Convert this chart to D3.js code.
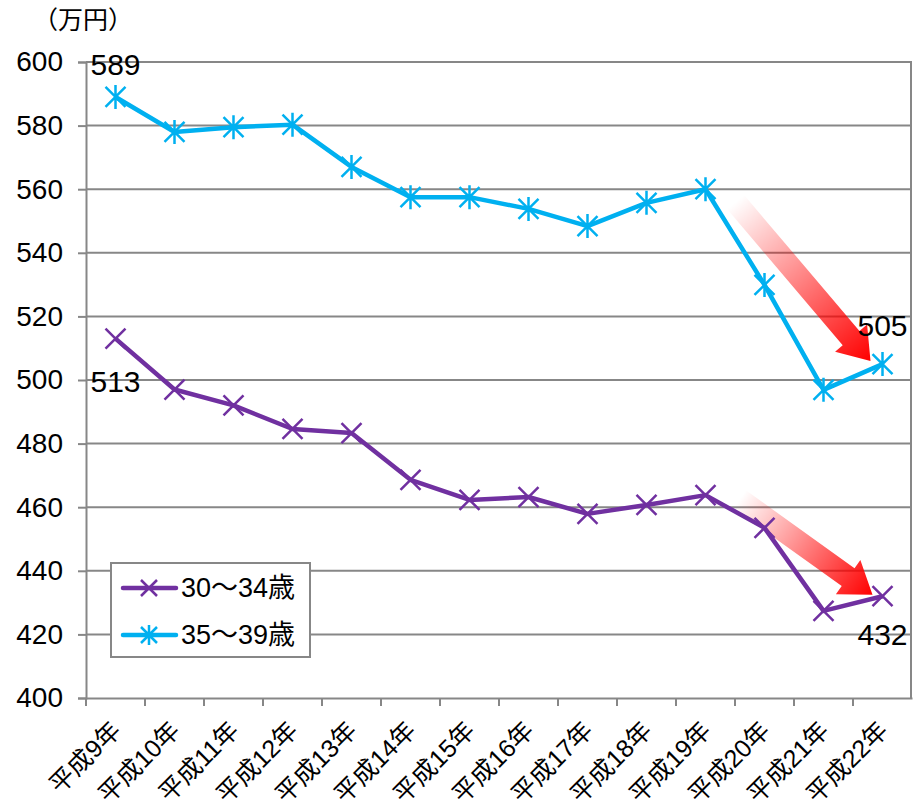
<!DOCTYPE html>
<html>
<head>
<meta charset="utf-8">
<script src="https://cdn.jsdelivr.net/npm/d3@7"></script>
<style>
  html, body { margin: 0; padding: 0; background: #fff; }
  svg { display: block; }
  text { font-family: "Liberation Sans", Arial, "Noto Sans CJK JP", sans-serif; fill: #000; }
</style>
</head>
<body>
<div id="chart"></div>
<script>
// Categories (Heisei years) and yearly income by age group, in 10,000 yen
const categories = ["平成9年","平成10年","平成11年","平成12年","平成13年","平成14年","平成15年","平成16年","平成17年","平成18年","平成19年","平成20年","平成21年","平成22年"];
const age30to34 = [513, 497, 492, 484.6, 483.3, 468.6, 462.3, 463.2, 457.9, 460.7, 463.8, 453.5, 427.4, 432];
const age35to39 = [589, 578, 579.5, 580.3, 567, 557.5, 557.5, 553.8, 548.4, 555.7, 560, 529.9, 496.9, 505];
const yTicks = [400, 420, 440, 460, 480, 500, 520, 540, 560, 580, 600];
const seriesNames = ["30～34歳", "35～39歳"];
const colors = ["#7030A0", "#00B0F0"];

const W = 913, H = 807;
const margin = { left: 86, right: 1, top: 62, bottom: 109 };

const svg = d3.select("#chart").append("svg").attr("width", W).attr("height", H);

const x = d3.scaleBand().domain(categories).range([margin.left, W - margin.right]).paddingInner(0).paddingOuter(0);
const y = d3.scaleLinear().domain([400, 600]).range([H - margin.bottom, margin.top]);
const cx = d => x(d) + x.bandwidth() / 2;

// gridlines
svg.append("g").selectAll("line").data(yTicks.filter(t => t > 400)).join("line")
  .attr("x1", margin.left).attr("x2", W - margin.right)
  .attr("y1", d => y(d)).attr("y2", d => y(d))
  .attr("stroke", "#878787").attr("stroke-width", 2);

// right border of plot
svg.append("line").attr("x1", W - margin.right - 1).attr("x2", W - margin.right - 1)
  .attr("y1", y(600)).attr("y2", y(400)).attr("stroke", "#878787").attr("stroke-width", 2);

// y axis
const yAxis = svg.append("g").attr("transform", `translate(${margin.left},0)`)
  .call(d3.axisLeft(y).tickValues(yTicks).tickSize(8).tickPadding(15));
yAxis.select(".domain").attr("stroke", "#878787").attr("stroke-width", 2);
yAxis.selectAll(".tick line").attr("stroke", "#878787").attr("stroke-width", 2);
yAxis.selectAll(".tick text").attr("font-size", 28).attr("fill", "#000")
  .attr("font-family", "'Liberation Sans', Arial, sans-serif");

// x axis
const xAxis = svg.append("g").attr("transform", `translate(0,${y(400)})`)
  .call(d3.axisBottom(x).tickSize(0).tickFormat(""));
xAxis.select(".domain").attr("stroke", "#878787").attr("stroke-width", 2);
svg.append("g").selectAll("line").data(categories).join("line")
  .attr("x1", d => x(d)).attr("x2", d => x(d))
  .attr("y1", y(400)).attr("y2", y(400) + 8)
  .attr("stroke", "#878787").attr("stroke-width", 2);
svg.append("g").selectAll("text").data(categories).join("text")
  .attr("transform", d => `translate(${cx(d) - 6},${y(400) + 21}) rotate(-45)`)
  .attr("text-anchor", "end").attr("dominant-baseline", "hanging")
  .attr("font-size", 25)
  .attr("font-family", "'Liberation Sans', 'Noto Sans CJK JP', sans-serif")
  .text(d => d);

// unit label
svg.append("text").attr("x", 33).attr("y", 29).attr("font-size", 25)
  .attr("font-family", "'Noto Sans CJK JP', sans-serif").text("（万円）");

// decorative trend arrows with fading gradient
const defs = svg.append("defs");
const grad = defs.append("linearGradient").attr("id", "fadeRed")
  .attr("x1", "0%").attr("x2", "100%").attr("y1", "0%").attr("y2", "0%");
grad.append("stop").attr("offset", "0%").attr("stop-color", "#ff0000").attr("stop-opacity", 0);
grad.append("stop").attr("offset", "100%").attr("stop-color", "#ff0000").attr("stop-opacity", 1);

function arrow(x0, y0, x1, y1) {
  const dx = x1 - x0, dy = y1 - y0;
  const len = Math.hypot(dx, dy);
  const ang = Math.atan2(dy, dx) * 180 / Math.PI;
  const sw = 11, hw = 21, hl = 30;
  const pts = [[0, -sw], [len - hl, -sw], [len - hl, -hw], [len, 0], [len - hl, hw], [len - hl, sw], [0, sw]];
  svg.append("polygon")
    .attr("points", pts.map(p => p.join(",")).join(" "))
    .attr("transform", `translate(${x0},${y0}) rotate(${ang})`)
    .attr("fill", "url(#fadeRed)");
}
arrow(cx(categories[10]) + 30, y(556), cx(categories[13]) - 12, y(506));
arrow(cx(categories[10]) + 34, y(462.5), cx(categories[13]) - 10, y(432.5));

// lines and markers
const line = d3.line().x((d, i) => cx(categories[i])).y(d => y(d));
[age30to34, age35to39].forEach((vals, s) => {
  svg.append("path").datum(vals).attr("d", line)
    .attr("fill", "none").attr("stroke", colors[s]).attr("stroke-width", 4.5)
    .attr("stroke-linejoin", "round");
  const g = svg.append("g").selectAll("g").data(vals).join("g")
    .attr("transform", (d, i) => `translate(${cx(categories[i])},${y(d)})`);
  const r = 10;
  g.append("path")
    .attr("d", s === 0
      ? `M${-r},${-r}L${r},${r}M${-r},${r}L${r},${-r}`
      : `M${-r},${-r}L${r},${r}M${-r},${r}L${r},${-r}M0,${-r - 2}L0,${r + 2}`)
    .attr("stroke", colors[s]).attr("stroke-width", 2.5).attr("fill", "none");
});

// value labels at first and last points
const labels = [
  { v: age35to39[0], i: 0, dy: -22 },
  { v: age30to34[0], i: 0, dy: 53 },
  { v: age35to39[13], i: 13, dy: -28 },
  { v: age30to34[13], i: 13, dy: 49 }
];
svg.append("g").selectAll("text").data(labels).join("text")
  .attr("x", d => cx(categories[d.i]))
  .attr("y", d => y(d.v) + d.dy)
  .attr("text-anchor", "middle").attr("font-size", 30)
  .text(d => d3.format("d")(d.v));

// legend
const lg = svg.append("g").attr("transform", "translate(111,563)");
lg.append("rect").attr("width", 199).attr("height", 94).attr("fill", "#fff")
  .attr("stroke", "#878787").attr("stroke-width", 2);
seriesNames.forEach((name, s) => {
  const yy = 25 + s * 47;
  lg.append("line").attr("x1", 12).attr("x2", 65).attr("y1", yy).attr("y2", yy)
    .attr("stroke", colors[s]).attr("stroke-width", 4.5).attr("stroke-linecap", "round");
  const r = 8, mx = 38;
  lg.append("path")
    .attr("d", s === 0
      ? `M${mx - r},${yy - r}L${mx + r},${yy + r}M${mx - r},${yy + r}L${mx + r},${yy - r}`
      : `M${mx - r},${yy - r}L${mx + r},${yy + r}M${mx - r},${yy + r}L${mx + r},${yy - r}M${mx},${yy - r - 2}L${mx},${yy + r + 2}`)
    .attr("stroke", colors[s]).attr("stroke-width", 2.5);
  lg.append("text").attr("x", 70).attr("y", yy).attr("dominant-baseline", "central")
    .attr("font-size", 27).attr("font-family", "'Liberation Sans', 'Noto Sans CJK JP', sans-serif")
    .text(name);
});
</script>
</body>
</html>
